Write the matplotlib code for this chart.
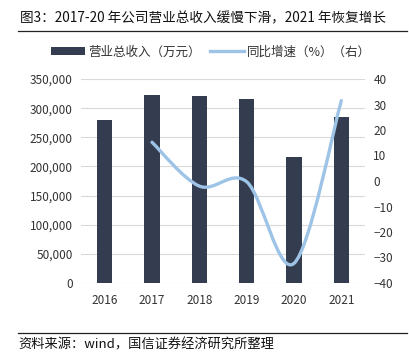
import numpy as np
import matplotlib
matplotlib.use("Agg")
import matplotlib.pyplot as plt
from matplotlib.path import Path
from matplotlib.patches import PathPatch, Patch
from matplotlib.lines import Line2D
from matplotlib.ticker import FuncFormatter

plt.rcParams['font.family'] = ['Noto Sans CJK SC', 'DejaVu Sans']
plt.rcParams['axes.unicode_minus'] = True

years = ["2016", "2017", "2018", "2019", "2020", "2021"]
revenue = [279000, 323000, 320300, 316200, 216200, 284800]   # 万元
growth_years = [1, 2, 3, 4, 5]                                # index into years
growth = [15.2, -2.0, -0.3, -32.3, 31.5]                     # %

bar_color = "#333d4f"
line_color = "#9dc3e6"
grid_color = "#d9d9d9"
text_color = "#333333"

fig = plt.figure(figsize=(4.10, 3.52), dpi=100)
ax = fig.add_axes([81 / 410, 1 - 283 / 352, 284 / 410, 204 / 352])
ax2 = ax.twinx()

x = np.arange(len(years))
ax.bar(x, revenue, width=0.32, color=bar_color, zorder=2)
ax.set_xlim(-0.5, len(years) - 0.5)
ax.set_ylim(0, 350000)
ax.set_yticks(np.arange(0, 350001, 50000))
ax.yaxis.set_major_formatter(FuncFormatter(lambda v, p: f"{int(v):,}"))
ax.set_xticks(x)
ax.set_xticklabels(years)
ax.grid(axis="y", color=grid_color, linewidth=0.8, zorder=0)
ax.set_axisbelow(True)

ax2.set_ylim(-40, 40)
ax2.set_yticks(np.arange(-40, 41, 10))

for a in (ax, ax2):
    for s in a.spines.values():
        s.set_visible(False)
    a.tick_params(length=0, labelsize=8.5, colors=text_color)
ax.tick_params(axis="x", pad=8)
ax.tick_params(axis="y", pad=6)
ax2.tick_params(axis="y", pad=6)

# smoothed line (Bezier through the points, like Excel's smoothing)
pts = np.column_stack([np.array(growth_years, dtype=float), np.array(growth, dtype=float)])
verts = [tuple(pts[0])]
codes = [Path.MOVETO]
n = len(pts)
for i in range(n - 1):
    p0 = pts[max(i - 1, 0)]
    p1 = pts[i]
    p2 = pts[i + 1]
    p3 = pts[min(i + 2, n - 1)]
    c1 = p1 + (p2 - p0) / 6
    c2 = p2 - (p3 - p1) / 6
    verts += [tuple(c1), tuple(c2), tuple(p2)]
    codes += [Path.CURVE4] * 3
ax2.add_patch(PathPatch(Path(verts, codes), facecolor="none", edgecolor=line_color,
                        linewidth=2.4, capstyle="round", zorder=3))

handles = [Patch(facecolor=bar_color, edgecolor="none"),
           Line2D([0], [0], color=line_color, linewidth=2.4)]
fig.legend(handles, ["营业总收入（万元）", "同比增速（%）（右）"], loc="center",
           bbox_to_anchor=(0.515, 1 - 52 / 352), ncol=2, frameon=False, fontsize=9,
           handlelength=2.7, handleheight=0.55, handletextpad=0.3, columnspacing=0.7,
           labelcolor=text_color)

fig.text(20 / 410, 1 - 18 / 352, "图3：2017-20 年公司营业总收入缓慢下滑，2021 年恢复增长",
         fontsize=9.8, ha="left", va="center", color="#111111")
fig.add_artist(Line2D([18 / 410, 407 / 410], [1 - 31 / 352] * 2, color="#222222", linewidth=0.9))
fig.add_artist(Line2D([18 / 410, 407 / 410], [1 - 333 / 352] * 2, color="#222222", linewidth=0.9))
fig.text(18 / 410, 1 - 345 / 352, "资料来源：wind，国信证券经济研究所整理",
         fontsize=9.5, ha="left", va="center", color="#111111")

fig.savefig("out.png", dpi=100)
